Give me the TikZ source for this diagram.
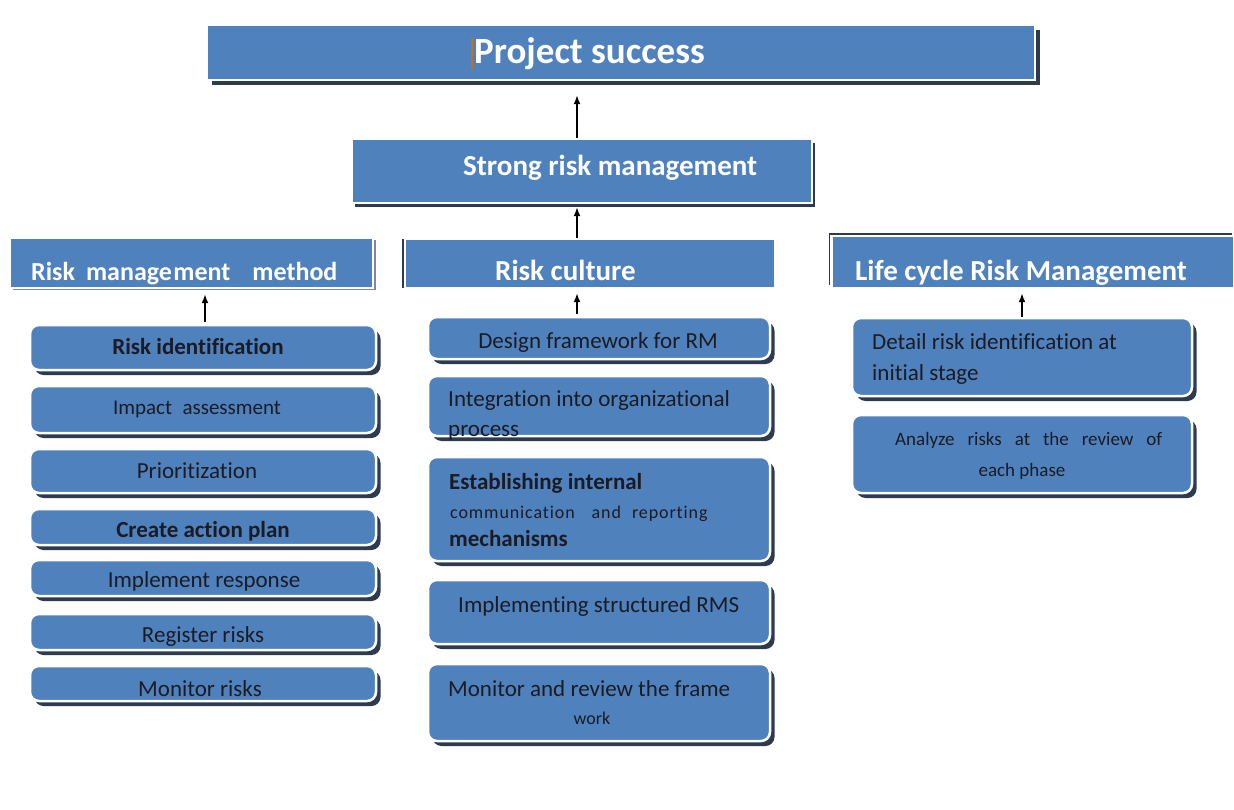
\documentclass[tikz,border=0pt]{standalone}
\usepackage{fontspec}
\setmainfont{Carlito}[Ligatures=NoCommon]
\newfontfamily\spacedfont{Carlito}[LetterSpace=5,Ligatures=NoCommon]
\usetikzlibrary{shadows,arrows.meta}
\definecolor{boxblue}{HTML}{4F81BD}
\definecolor{shadowc}{HTML}{2E3B4E}
\definecolor{txtdark}{HTML}{1B1B24}
\definecolor{cursorc}{HTML}{C0701E}
\begin{document}
\begin{tikzpicture}[x=1pt,y=-1pt,
 hdr/.style={rectangle, fill=boxblue, draw=white, line width=2.5pt, inner sep=0pt},
 itm/.style={rectangle, rounded corners=9pt, fill=boxblue, draw=white, line width=2.5pt, inner sep=0pt,
   general shadow={fill=shadowc, shadow xshift=4.5pt, shadow yshift=-5pt}},
 htxt/.style={text=white, font=\bfseries\fontsize{29}{32}\selectfont, inner sep=0pt},
 itxt/.style={text=txtdark, font=\fontsize{23}{26}\selectfont, inner sep=0pt},
 btxt/.style={text=txtdark, font=\bfseries\fontsize{23}{26}\selectfont, inner sep=0pt},
 arr/.style={-{Latex[length=9pt,width=7pt]}, line width=1.6pt, black},
]
\useasboundingbox (0,0) rectangle (1234,810);
\fill[white] (0,0) rectangle (1234,810);

% top level boxes
\node[hdr, general shadow={fill=shadowc, shadow xshift=5pt, shadow yshift=-5pt},
  minimum width=828pt, minimum height=55pt] (proj) at (621,52.5) {};
\node[htxt, font=\bfseries\fontsize{37}{40}\selectfont, anchor=base west] (projt) at (474,64) {Project success};
\draw[cursorc, line width=2pt] (472,38) -- (472,70);

\node[hdr, general shadow={fill=shadowc, shadow xshift=3pt, shadow yshift=-4pt},
  minimum width=460pt, minimum height=64pt] (strong) at (582,171) {};
\node[htxt, anchor=base west] (strongt) at (463,176) {Strong risk management};

% level 2 headers
\node[hdr, general shadow={fill=shadowc!60, shadow xshift=3pt, shadow yshift=-2pt},
  minimum width=363pt, minimum height=50pt] (rmm) at (191.5,263) {};
\node[htxt, font=\bfseries\fontsize{26}{28}\selectfont, anchor=base west] (rmmt) at (31,280)
  {Risk\hspace{11pt}manage\hspace{1.5pt}ment\hspace{22pt}method};

\node[hdr, general shadow={fill=shadowc, shadow xshift=-3pt, shadow yshift=0pt},
  minimum width=370pt, minimum height=49pt] (rc) at (590,263.5) {};
\node[htxt, anchor=base west] (rct) at (495,280) {Risk culture};

\node[hdr, general shadow={fill=shadowc, shadow xshift=-3pt, shadow yshift=3pt},
  minimum width=403pt, minimum height=52pt] (lc) at (1033,262) {};
\node[htxt, anchor=base west] (lct) at (855,280) {Life cycle Risk Management};

% left column
\node[itm, minimum width=346pt, minimum height=45pt] (ri) at (203,347.5) {};
\node[btxt, anchor=base] (rit) at (198,354) {Risk identification};
\node[itm, minimum width=346pt, minimum height=47pt] (ia) at (203,409.5) {};
\node[itxt, font=\fontsize{21}{24}\selectfont, anchor=base] (iat) at (197,414) {\makebox[168pt][s]{Impact assessment}};
\node[itm, minimum width=346pt, minimum height=44pt] (pr) at (203,471) {};
\node[itxt, anchor=base] (prt) at (197,478) {Prioritization};
\node[itm, minimum width=346pt, minimum height=36pt] (cap) at (203,527) {};
\node[btxt, anchor=base] (capt) at (203,537) {Create action plan};
\node[itm, minimum width=346pt, minimum height=36pt] (ir) at (203,578) {};
\node[itxt, anchor=base] (irt) at (204,587) {Implement response};
\node[itm, minimum width=346pt, minimum height=36pt] (rr) at (203,632) {};
\node[itxt, anchor=base] (rrt) at (203,642) {Register risks};
\node[itm, minimum width=346pt, minimum height=35pt] (mr) at (203,683.5) {};
\node[itxt, anchor=base] (mrt) at (200,696) {Monitor risks};

% middle column
\node[itm, minimum width=342pt, minimum height=42pt] (dsg) at (599,338) {};
\node[itxt, anchor=base] (dsgt) at (598,348) {Design framework for RM};
\node[itm, minimum width=342pt, minimum height=60pt] (intg) at (599,406) {};
\node[itxt, anchor=base west] (intgt) at (448,406) {Integration into organizational};
\node[itxt, anchor=base west] (intgt2) at (448,436) {process};
\node[itm, minimum width=342pt, minimum height=104pt] (est) at (599,509) {};
\node[btxt, anchor=base west] (estt) at (449,489) {Establishing internal};
\node[itxt, font=\spacedfont\fontsize{18}{21}\selectfont, anchor=base west] (estt2) at (450,518)
  {communication\hspace{12pt} and\hspace{6pt} reporting};
\node[btxt, anchor=base west] (estt3) at (449,546) {mechanisms};
\node[itm, minimum width=342pt, minimum height=64pt] (imp) at (599,612) {};
\node[itxt, anchor=base west] (impt) at (458,612) {Implementing structured RMS};
\node[itm, minimum width=342pt, minimum height=77pt] (mon) at (599,702.5) {};
\node[itxt, anchor=base west] (mont) at (448,696) {Monitor and review the frame};
\node[itxt, font=\fontsize{18}{21}\selectfont, anchor=base] (mont2) at (592,724) {work};

% right column
\node[itm, minimum width=340pt, minimum height=78pt] (det) at (1022,357) {};
\node[itxt, anchor=base west] (dett) at (872,349) {Detail risk identification at};
\node[itxt, anchor=base west] (dett2) at (872,380) {initial stage};
\node[itm, minimum width=340pt, minimum height=78pt] (ana) at (1022,454) {};
\node[itxt, font=\fontsize{19}{22}\selectfont, anchor=base west] (anat) at (895,445)
  {\makebox[267pt][s]{Analyze risks at the review of}};
\node[itxt, font=\fontsize{19}{22}\selectfont, anchor=base] (anat2) at (1022,476) {each phase};

% arrows
\coordinate (xa) at (577,0);
\coordinate (xl) at (205,0);
\coordinate (xr) at (1022,0);
\draw[arr, shorten >=14pt] (strong.north -| xa) -- (proj.south -| xa);
\draw[arr, shorten >=3pt] (rc.north -| xa) -- (strong.south -| xa);
\draw[arr, shorten >=5pt] ([yshift=2pt]ri.north -| xl) -- (rmm.south -| xl);
\draw[arr, shorten >=4pt] ([yshift=2pt]dsg.north -| xa) -- (rc.south -| xa);
\draw[arr, shorten >=4pt] (det.north -| xr) -- (lc.south -| xr);
\end{tikzpicture}
\end{document}
